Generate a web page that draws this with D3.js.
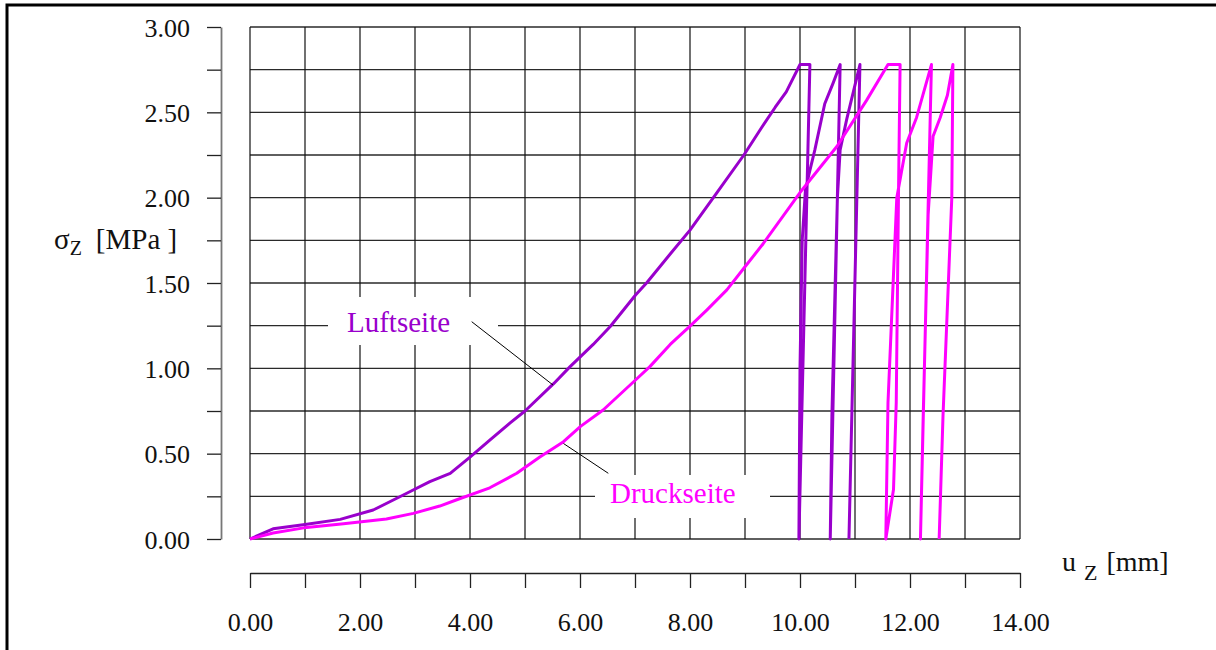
<!DOCTYPE html>
<html>
<head>
<meta charset="utf-8">
<script src="https://cdn.jsdelivr.net/npm/d3@7"></script>
<style>
  html, body { margin: 0; padding: 0; background: #fff; }
  svg { display: block; }
  text { font-family: "Liberation Serif", "DejaVu Serif", serif; }
</style>
</head>
<body>
<svg id="chart" width="1216" height="650"></svg>
<script>
// ---- data ----
const luftU = [0, 0.42, 1.0, 1.64, 2.24, 2.85, 3.27, 3.64, 4.0, 4.36, 4.73, 5.0, 5.52, 5.82, 6.24, 6.55, 7.01, 7.21, 7.64, 8.0, 8.49, 8.98, 9.3, 9.55, 9.75, 10.0, 10.18,
               9.98, 10.0, 10.04, 10.1, 10.18, 10.27, 10.45, 10.6, 10.73,
               10.55, 10.58, 10.64, 10.68, 10.73, 10.85, 10.97, 11.09,
               10.89];
const luftS = [0, 0.06, 0.085, 0.115, 0.17, 0.268, 0.336, 0.385, 0.48, 0.58, 0.68, 0.75, 0.91, 1.01, 1.14, 1.245, 1.43, 1.50, 1.67, 1.81, 2.03, 2.25, 2.41, 2.53, 2.62, 2.78, 2.78,
               0, 1.0, 1.75, 2.05, 2.16, 2.28, 2.55, 2.67, 2.78,
               0, 0.72, 1.5, 2.0, 2.28, 2.46, 2.62, 2.78,
               0];
const druckU = [0, 0.42, 1.03, 1.7, 2.48, 2.97, 3.45, 3.76, 4.36, 4.85, 5.27, 5.70, 6.01, 6.42, 6.97, 7.27, 7.64, 8.01, 8.30, 8.67, 9.0, 9.33, 10.0, 10.67, 11.21, 11.6, 11.82,
                11.79, 11.75, 11.70, 11.56,
                11.6, 11.68, 11.76, 11.94, 12.12, 12.39,
                12.19, 12.24, 12.33, 12.42, 12.55, 12.68, 12.78,
                12.76, 12.6, 12.53];
const druckS = [0, 0.035, 0.068, 0.09, 0.117, 0.15, 0.193, 0.23, 0.30, 0.385, 0.48, 0.57, 0.66, 0.756, 0.92, 1.01, 1.14, 1.25, 1.34, 1.46, 1.595, 1.73, 2.03, 2.30, 2.57, 2.78, 2.78,
                2.0, 0.8, 0.29, 0,
                0.8, 1.4, 2.0, 2.32, 2.47, 2.78,
                0, 0.72, 1.9, 2.36, 2.47, 2.6, 2.78,
                2.0, 0.72, 0];

const seriesNames = ["Luftseite", "Druckseite"];
const seriesColors = ["#9900cc", "#ff00ff"];

const xTickValues = [0, 1, 2, 3, 4, 5, 6, 7, 8, 9, 10, 11, 12, 13, 14];
const xTickLabels = ["0.00", "", "2.00", "", "4.00", "", "6.00", "", "8.00", "", "10.00", "", "12.00", "", "14.00"];
const yTickValues = [0, 0.25, 0.5, 0.75, 1.0, 1.25, 1.5, 1.75, 2.0, 2.25, 2.5, 2.75, 3.0];
const yTickLabels = ["0.00", "", "0.50", "", "1.00", "", "1.50", "", "2.00", "", "2.50", "", "3.00"];

// ---- layout ----
const svg = d3.select("#chart");
const x = d3.scaleLinear().domain([0, 14]).range([250, 1020]);
const y = d3.scaleLinear().domain([0, 3]).range([539, 27]);

// outer frame
svg.append("rect").attr("x", 7).attr("y", 5).attr("width", 1230).attr("height", 660)
  .attr("fill", "none").attr("stroke", "#000").attr("stroke-width", 3);

// grid
const grid = svg.append("g");
grid.selectAll("line.h").data(yTickValues).join("line")
  .attr("x1", x(0)).attr("x2", x(14))
  .attr("y1", d => y(d)).attr("y2", d => y(d))
  .attr("stroke", "#2a2a2a").attr("stroke-width", 1.3);
grid.selectAll("line.v").data(xTickValues).join("line")
  .attr("x1", d => x(d)).attr("x2", d => x(d))
  .attr("y1", y(0)).attr("y2", y(3))
  .attr("stroke", "#111").attr("stroke-width", 1.2);

// y axis (separate)
const yAxis = d3.axisLeft(y).tickValues(yTickValues)
  .tickFormat((d, i) => yTickLabels[i]).tickSize(14).tickSizeOuter(0).tickPadding(17);
const gy = svg.append("g").attr("transform", "translate(221,0)").call(yAxis);
gy.select(".domain").attr("stroke", "#777").attr("stroke-width", 1.8);
gy.selectAll(".tick line").attr("stroke", "#222").attr("stroke-width", 1.3);
gy.selectAll(".tick text").attr("font-size", 26).attr("fill", "#111")
  .attr("font-family", "Liberation Serif, serif").attr("dy", "0.35em");

// x axis (separate)
const xAxis = d3.axisBottom(x).tickValues(xTickValues)
  .tickFormat((d, i) => xTickLabels[i]).tickSize(15).tickSizeOuter(0).tickPadding(25);
const gx = svg.append("g").attr("transform", "translate(0,573)").call(xAxis);
gx.select(".domain").attr("stroke", "#222").attr("stroke-width", 1.3);
gx.selectAll(".tick line").attr("stroke", "#222").attr("stroke-width", 1.3);
gx.selectAll(".tick text").attr("font-size", 26).attr("fill", "#111")
  .attr("font-family", "Liberation Serif, serif");

// label boxes (white, cut the grid)
svg.append("rect").attr("x", 328).attr("y", 297).attr("width", 170).attr("height", 48).attr("fill", "#fff");
svg.append("rect").attr("x", 595).attr("y", 475).attr("width", 175).attr("height", 43).attr("fill", "#fff");

// series
const line = d3.line().x(d => x(d[0])).y(d => y(d[1]));
const series = [d3.zip(luftU, luftS), d3.zip(druckU, druckS)];
svg.append("g").selectAll("path").data(series).join("path")
  .attr("d", line)
  .attr("fill", "none")
  .attr("stroke", (d, i) => seriesColors[i])
  .attr("stroke-width", 3)
  .attr("stroke-linejoin", "round");

// leader lines
svg.append("line").attr("x1", 471.7).attr("y1", 321.7).attr("x2", 553).attr("y2", 385)
  .attr("stroke", "#000").attr("stroke-width", 1);
svg.append("line").attr("x1", 563.5).attr("y1", 443.5).attr("x2", 608.3).attr("y2", 473.3)
  .attr("stroke", "#000").attr("stroke-width", 1);

// labels
svg.append("text").attr("x", 347).attr("y", 331.5).attr("font-size", 29)
  .attr("fill", seriesColors[0]).text(seriesNames[0]);
svg.append("text").attr("x", 610).attr("y", 503).attr("font-size", 29)
  .attr("fill", seriesColors[1]).text(seriesNames[1]);

// axis titles
const yt = svg.append("text").attr("x", 54).attr("y", 249).attr("font-size", 29).attr("fill", "#111");
yt.append("tspan").text("σ");
yt.append("tspan").attr("font-size", 20).attr("dy", 6).text("Z");
yt.append("tspan").attr("dy", -6).attr("dx", 14).text("[MPa ]");

const xt = svg.append("text").attr("x", 1062).attr("y", 571).attr("font-size", 28).attr("fill", "#111");
xt.append("tspan").text("u");
xt.append("tspan").attr("font-size", 22).attr("dy", 9).attr("dx", 8).text("Z");
xt.append("tspan").attr("dy", -9).attr("dx", 9).text("[mm]");
</script>
</body>
</html>
